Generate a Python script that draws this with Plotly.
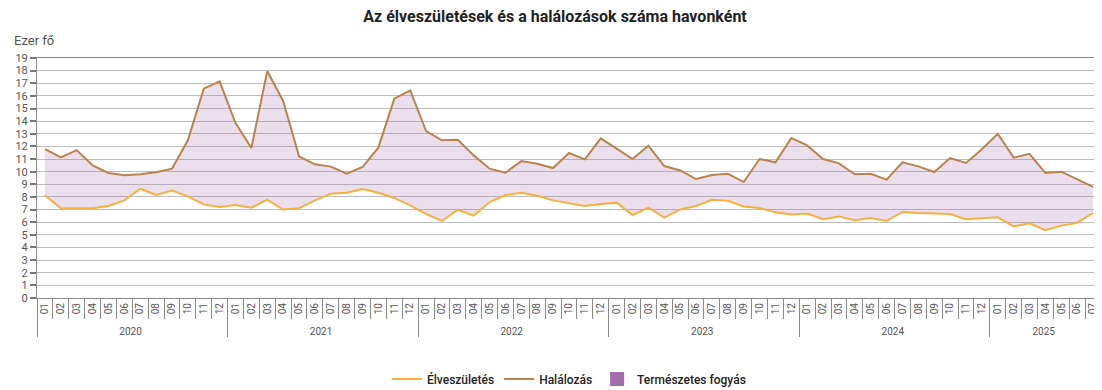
import plotly.graph_objects as go

years = ["2020", "2021", "2022", "2023", "2024", "2025"]
month_labels = ["01", "02", "03", "04", "05", "06", "07", "08", "09", "10", "11", "12"]
months_last_year = 7

births = [8.13, 7.1, 7.1, 7.1, 7.28, 7.73, 8.65, 8.15, 8.5, 8.05, 7.41, 7.2,
          7.36, 7.15, 7.78, 7.0, 7.1, 7.73, 8.26, 8.34, 8.63, 8.33, 7.92, 7.33,
          6.65, 6.1, 6.99, 6.52, 7.6, 8.15, 8.34, 8.1, 7.73, 7.52, 7.28, 7.44,
          7.55, 6.57, 7.15, 6.36, 7.02, 7.28, 7.78, 7.7, 7.25, 7.12, 6.78, 6.62,
          6.68, 6.23, 6.46, 6.15, 6.33, 6.1, 6.81, 6.73, 6.7, 6.65, 6.23, 6.28,
          6.39, 5.67, 5.91, 5.36, 5.73, 5.96, 6.73]

deaths = [11.79, 11.13, 11.71, 10.5, 9.9, 9.71, 9.79, 9.95, 10.24, 12.48, 16.57, 17.15,
          13.85, 11.87, 17.97, 15.6, 11.21, 10.58, 10.4, 9.84, 10.37, 11.92, 15.78, 16.44,
          13.22, 12.48, 12.53, 11.29, 10.24, 9.92, 10.84, 10.63, 10.29, 11.48, 10.98, 12.64,
          11.82, 11.0, 12.06, 10.45, 10.1, 9.42, 9.74, 9.84, 9.18, 11.0, 10.74, 12.66,
          12.08, 11.0, 10.66, 9.79, 9.84, 9.37, 10.74, 10.42, 9.97, 11.08, 10.69, 11.77,
          13.0, 11.11, 11.42, 9.89, 10.0, 9.39, 8.79]

x_year = []
x_month = []
for i, y in enumerate(years):
    n = 12 if i < len(years) - 1 else months_last_year
    for m in month_labels[:n]:
        x_year.append(y)
        x_month.append(m)
x = [x_year, x_month]

c_birth = "#f5b03e"
c_death = "#b9844b"
c_fill = "rgba(163,108,174,0.22)"
c_fill_legend = "#a36cae"
grid = "#bdbdbd"
axis_c = "#8a8a8a"
txt = "#555555"

# page has an 8px body margin; figure is sized to fit the 1102x390 window
W, H = 1094, 382
ML, MR, MT, MB = 29, 1, 50, 92
PW, PH = W - ML - MR, H - MT - MB

fig = go.Figure()
fig.add_trace(go.Scatter(x=x, y=births, mode="lines", name="Élveszületés",
                         line=dict(color=c_birth, width=2), legendrank=1))
fig.add_trace(go.Scatter(x=x, y=deaths, mode="lines", name="fill",
                         line=dict(width=0, color=c_fill), fill="tonexty",
                         fillcolor=c_fill, showlegend=False, hoverinfo="skip"))
fig.add_trace(go.Scatter(x=x, y=deaths, mode="lines", name="Halálozás",
                         line=dict(color=c_death, width=2), legendrank=2))
fig.add_trace(go.Scatter(x=[x_year[:1], x_month[:1]], y=[None], mode="markers",
                         name="Természetes fogyás",
                         marker=dict(symbol="square", size=14, color=c_fill_legend),
                         legendrank=3))

fig.update_layout(
    width=W, height=H,
    margin=dict(l=ML, r=MR, t=MT, b=MB, autoexpand=False),
    paper_bgcolor="white", plot_bgcolor="white",
    font=dict(family="Roboto, Arial, sans-serif", color=txt),
    title=dict(text="<b>Az élveszületések és a halálozások száma havonként</b>",
               x=0.5, xanchor="center", y=1 - 2.5 / H, yanchor="top",
               pad=dict(t=0, b=0),
               font=dict(size=16, color="#222222", family="Roboto, Arial, sans-serif")),
    legend=dict(orientation="h", x=0.5, xanchor="center", y=-81 / PH,
                yanchor="middle", font=dict(size=12, color="#222222", weight=500),
                itemwidth=30, traceorder="normal"),
    showlegend=True,
)

fig.update_yaxes(range=[0, 19], dtick=1, tick0=0, showgrid=True, gridcolor=grid,
                 gridwidth=1, zeroline=False, showline=True, linecolor=axis_c,
                 linewidth=1, mirror=True, ticks="outside", ticklen=6, tickcolor="#777777",
                 tickwidth=2, tickfont=dict(size=11, color=txt), automargin=False)
fig.update_xaxes(type="multicategory", showgrid=False, showline=True, linecolor=axis_c,
                 linewidth=1, mirror=True, ticks="outside", tickson="boundaries",
                 ticklen=20, tickcolor=axis_c, tickangle=-90,
                 tickfont=dict(size=10, color=txt),
                 showdividers=True, dividercolor=axis_c, dividerwidth=1,
                 range=[-0.5, len(x_month) - 0.5], automargin=False)

fig.add_annotation(text="Ezer fő", xref="paper", yref="paper", x=(4 - ML) / PW,
                   y=1 + 18 / PH, xanchor="left", yanchor="middle", showarrow=False,
                   font=dict(size=13, color=txt))

fig.write_html("out.html")
